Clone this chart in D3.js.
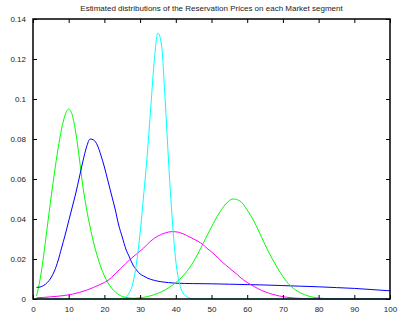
<!DOCTYPE html>
<html><head><meta charset="utf-8">
<script src="https://cdn.jsdelivr.net/npm/d3@7"></script>
<style>html,body{margin:0;padding:0;background:#fff;}svg{display:block;}</style>
</head><body><div id="chart"></div>
<script>
const title = "Estimated distributions of the Reservation Prices on each Market segment";
const xTicks = [0,10,20,30,40,50,60,70,80,90,100];
const yTicks = [0,0.02,0.04,0.06,0.08,0.1,0.12,0.14];
const yTickLabels = ["0","0.02","0.04","0.06","0.08","0.1","0.12","0.14"];

// Segment A (green, low prices)
const greenAX = [1,2,3,4,5,6,7,8,9,10,11,12,13,14,15,16,17,18,19,20,21,22,23,24,25,26,27,28,30];
const greenAY = [0.0015,0.010,0.022,0.036,0.050,0.063,0.075,0.085,0.092,0.095,0.092,0.083,0.070,0.056,0.045,0.036,0.028,0.0215,0.016,0.0115,0.0080,0.0055,0.0036,0.0022,0.0013,0.0008,0.0005,0.0003,0.0001];
// Segment B (blue)
const blueX = [1,2,3,4,5,6,7,8,9,10,11,12,13,14,15,16,17,18,19,20,21,22,23,24,25,26,27,28,29,30,31,32,34,36,38,40,45,50,55,60,65,70,75,80,85,90,95,100];
const blueY = [0.0058,0.0060,0.0068,0.0082,0.0105,0.0140,0.0190,0.0255,0.032,0.039,0.046,0.053,0.061,0.069,0.076,0.080,0.0795,0.077,0.072,0.066,0.059,0.052,0.045,0.037,0.031,0.025,0.021,0.017,0.0145,0.0125,0.0115,0.0105,0.0093,0.0086,0.0082,0.0079,0.0077,0.0076,0.0074,0.0072,0.0070,0.0067,0.0064,0.0061,0.0057,0.0053,0.0047,0.0041];
// Segment C (green, high prices)
const greenBX = [25,26,28,30,32,34,36,38,40,42,44,46,48,50,52,54,56,58,60,62,64,66,68,70,72,74,76,78,80,82,85,90,95,100];
const greenBY = [0.0001,0.0001,0.0003,0.0006,0.0012,0.0022,0.0036,0.0056,0.0082,0.0115,0.0160,0.0220,0.0290,0.0360,0.0425,0.0475,0.0500,0.0490,0.0445,0.0385,0.0310,0.0235,0.0170,0.0112,0.0068,0.0040,0.0022,0.0011,0.0005,0.0002,0.0001,0,0,0];
// Segment D (magenta)
const magentaX = [1,3,5,7,9,11,13,15,17,19,21,23,25,27,29,31,33,35,37,39,41,43,45,47,49,51,53,55,57,59,61,63,65,67,69,71,73,75,78,80,90,100];
const magentaY = [0.0006,0.0008,0.0011,0.0014,0.0018,0.0024,0.0033,0.0044,0.0058,0.0074,0.0093,0.0125,0.0160,0.0195,0.0225,0.0255,0.0290,0.0315,0.0330,0.0337,0.0333,0.0318,0.0300,0.0280,0.0250,0.0220,0.0185,0.0155,0.0125,0.0095,0.0072,0.0052,0.0036,0.0024,0.0015,0.0009,0.0005,0.0003,0.0001,0,0,0];
// Segment E (cyan)
const cyanX = [1,10,20,24,25,26,27,28,29,30,31,32,33,34,35,36,37,38,39,40,41,42,43,44,45,46,50,60,70,80,90,100];
const cyanY = [0,0,0,0,0.0003,0.0010,0.0032,0.0080,0.0180,0.0330,0.0520,0.0720,0.0960,0.1200,0.1330,0.1270,0.1000,0.0680,0.0400,0.0190,0.0080,0.0030,0.0012,0.0004,0.0001,0,0,0,0,0,0,0];

const series = [
  {x: greenAX, y: greenAY, color: "#00ff00"},
  {x: blueX, y: blueY, color: "#0000ff"},
  {x: greenBX, y: greenBY, color: "#00ff00"},
  {x: magentaX, y: magentaY, color: "#ff00ff"},
  {x: cyanX, y: cyanY, color: "#00ffff"}
];

const W = 404, H = 321;
const m = {left: 33, right: 14, top: 19, bottom: 22};
const svg = d3.select("#chart").append("svg").attr("width", W).attr("height", H)
  .style("font-family", "'Liberation Sans', Arial, Helvetica, sans-serif");

const x = d3.scaleLinear().domain([0,100]).range([m.left, W - m.right]);
const y = d3.scaleLinear().domain([0,0.14]).range([H - m.bottom, m.top]);

const line = d3.line().x(d => x(d[0])).y(d => y(d[1])).curve(d3.curveMonotoneX);
const g = svg.append("g");
series.forEach(s => {
  const pts = s.x.map((v,i) => [v, s.y[i]]);
  g.append("path").attr("d", line(pts)).attr("fill","none")
    .attr("stroke", s.color).attr("stroke-width", 1);
});

const tl = 4;
// bottom axis
const bx = d3.axisBottom(x).tickValues(xTicks).tickSize(-tl).tickPadding(tl+3).tickFormat(d3.format("d"));
const gb = svg.append("g").attr("transform", `translate(0,${y(0)})`).call(bx);
// top axis
const tx = d3.axisTop(x).tickValues(xTicks).tickSize(-tl).tickFormat("");
const gt = svg.append("g").attr("transform", `translate(0,${y(0.14)})`).call(tx);
// left axis
const ly = d3.axisLeft(y).tickValues(yTicks).tickSize(-tl).tickPadding(tl+3).tickFormat((d,i) => yTickLabels[i]);
const gl = svg.append("g").attr("transform", `translate(${x(0)},0)`).call(ly);
// right axis
const ry = d3.axisRight(y).tickValues(yTicks).tickSize(-tl).tickFormat("");
const gr = svg.append("g").attr("transform", `translate(${x(100)},0)`).call(ry);

[gb, gt, gl, gr].forEach(a => {
  a.select(".domain").remove();
  a.selectAll(".tick line").attr("stroke", "#000").attr("stroke-width", 1);
  a.selectAll("text").attr("font-size", 8).attr("fill", "#222").attr("font-family", "'Liberation Sans', Arial, sans-serif");
});

// frame
svg.append("rect").attr("x", x(0)).attr("y", y(0.14)).attr("width", x(100)-x(0)).attr("height", y(0)-y(0.14))
  .attr("fill", "none").attr("stroke", "#000").attr("stroke-width", 1.5);

svg.append("text").attr("x", (x(0)+x(100))/2).attr("y", 11).attr("text-anchor","middle")
  .attr("font-size", 8).attr("fill", "#222").text(title);
</script></body></html>
